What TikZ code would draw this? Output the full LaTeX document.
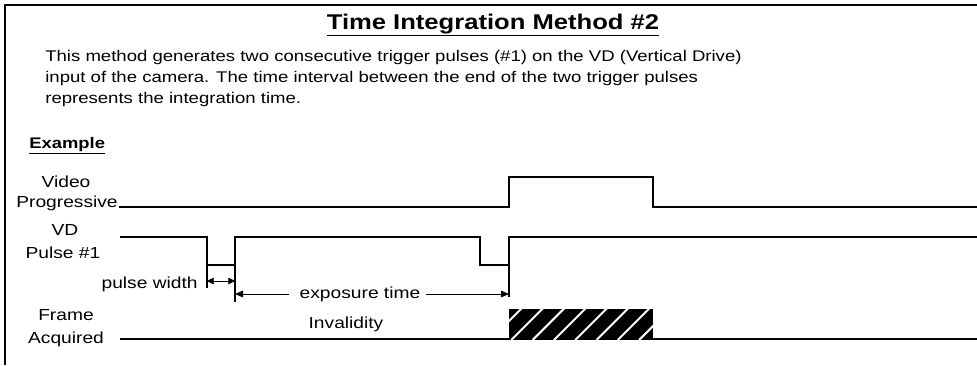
\documentclass[tikz,border=0pt]{standalone}
\usepackage{fontspec}
\setmainfont{Liberation Sans}
\usetikzlibrary{
    arrows.meta,
    positioning,
    calc
}

\begin{document}
\begin{tikzpicture}[
    x=0.75pt, y=-0.75pt,
    every node/.style={font=\fontsize{12}{14}\selectfont, inner sep=0pt, xscale=1.2},
    heading/.style={font=\bfseries\fontsize{16}{19}\selectfont, anchor=base},
    textline/.style={font=\fontsize{11.6}{14}\selectfont, anchor=base west},
    sublabel/.style={font=\bfseries\fontsize{11.5}{13}\selectfont, anchor=base west},
    signame/.style={anchor=base},
    signal/.style={line width=0.8pt},
    extline/.style={line width=0.8pt},
    dimarrow/.style={line width=0.6pt, -{Triangle[length=6pt,width=5pt]}},
    dimboth/.style={line width=0.6pt,
      {Triangle[length=5pt,width=5pt]}-{Triangle[length=5pt,width=5pt]}}
]
\useasboundingbox (0,0) rectangle (977,365);
\draw[line width=1.6pt] (977,5) -- (5,5) -- (5,365);

% heading and description
\node[heading] (title) at (493,29) {\underline{Time Integration Method \#2}};
\node[textline] (descA) at (45,61) {This method generates two consecutive trigger pulses (\#1) on the VD (Vertical Drive)};
\node[textline] (descB) at (45,82) {input of the camera. The time interval between the end of the two trigger pulses};
\node[textline] (descC) at (45,103) {represents the integration time.};
\node[sublabel] (example) at (29,148) {\underline{Example}};

% signal names
\node[signame] (videoA) at (66,187) {Video};
\node[signame] (videoB) at (67,207) {Progressive};
\node[signame] (vdA) at (65,235) {VD};
\node[signame] (vdB) at (63,258) {Pulse \#1};
\node[signame] (frameA) at (66,320) {Frame};
\node[signame] (frameB) at (66,343) {Acquired};

% waveforms
\draw[signal] (119,207) -- (509,207) -- (509,177) -- (653,177) -- (653,207) -- (977,207);
\draw[signal] (120,237) -- (207,237) -- (207,265) -- (235,265) -- (235,237)
  -- (480,237) -- (480,265) -- (509,265) -- (509,237) -- (977,237);
\draw[signal] (120,339) -- (977,339);

% invalidity block
\fill (509,309) rectangle (653,339);
\begin{scope}
  \clip (509,309) rectangle (653,339);
  \foreach \k in {0,...,8}
    \draw[white, line width=1.5pt] (490+\k*21.3,340) -- ++(32,-32);
\end{scope}

% extension lines
\coordinate (pwL) at (207,281);
\coordinate (pwR) at (235,281);
\coordinate (exL) at (235,294);
\coordinate (exR) at (509,294);
\draw[extline] (207,265) -- (207,288);
\draw[extline] (235,265) -- (235,302);
\draw[extline] (509,265) -- (509,297);

% dimensions
\node[anchor=base east] (pwidth) at (198,288) {pulse width};
\draw[dimboth] (pwL) -- (pwR);
\node (exposure) at (360,294) {exposure time};
\draw[dimarrow] ([xshift=-8pt]exposure.west) -- (exL);
\draw[dimarrow] ([xshift=4pt]exposure.east) -- (exR);
\node[anchor=base] (invalid) at (346,328) {Invalidity};
\end{tikzpicture}
\end{document}
